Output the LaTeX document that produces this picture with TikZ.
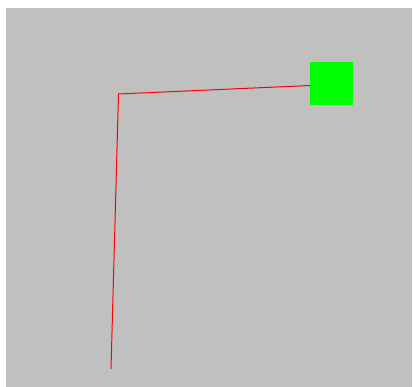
\documentclass[tikz,border=0pt]{standalone}
\definecolor{bg}{RGB}{192,192,192}
\definecolor{grn}{RGB}{0,255,0}
\begin{document}
\begin{tikzpicture}[x=1pt,y=-1pt,
  redline/.style={draw=red,line width=1pt},
  sq/.style={fill=grn,draw=none,minimum width=43pt,minimum height=43pt,inner sep=0pt,outer sep=0pt}]
\useasboundingbox (0,0) rectangle (413,387);
\fill[bg] (6,8) rectangle (411.5,387);
\node[sq] (box) at (331.5,83.5) {};
\coordinate (corner) at (118.5,94);
\coordinate (bottom) at (111,369);
\draw[redline] (box.west |- 0,85.5) -- (corner) -- (bottom);
\end{tikzpicture}
\end{document}
